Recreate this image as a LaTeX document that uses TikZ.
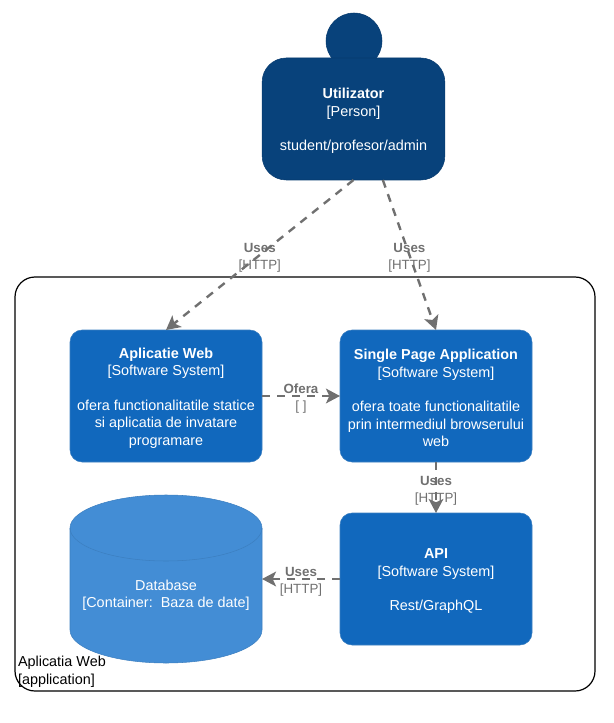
\documentclass[tikz,border=0pt]{standalone}
\usepackage{fontspec}
\setmainfont{Liberation Sans}
\usetikzlibrary{arrows.meta,positioning}

\definecolor{personfill}{HTML}{08427B}
\definecolor{personline}{HTML}{073B6F}
\definecolor{sysfill}{HTML}{1168BD}
\definecolor{sysline}{HTML}{3C7FC0}
\definecolor{dbfill}{HTML}{438DD5}
\definecolor{dbline}{HTML}{3C7FC0}
\definecolor{linkgray}{HTML}{707070}
\newcommand{\topgap}{\rule{0pt}{11pt}}
\newcommand{\linktext}[2]{\rule{0pt}{11.7pt}\textbf{#1}\\{[#2]}}

\begin{document}
\begin{tikzpicture}[
  x=0.75pt, y=-0.75pt,
  font=\fontsize{10.8pt}{13pt}\selectfont,
  outer sep=0pt, text=white,
  sys/.style={draw=sysline, fill=sysfill, rounded corners=9pt, align=center,
  minimum width=144pt, minimum height=99pt, inner sep=0pt},
  person/.style={draw=personline, fill=personfill, rounded corners=18pt, align=center,
  minimum width=137pt, minimum height=91.5pt, inner sep=0pt},
  head/.style={circle, draw=personline, fill=personfill, minimum size=42pt, inner sep=0pt},
  dbbox/.style={minimum width=144pt, minimum height=126pt, inner sep=0pt},
  dbbody/.style={draw=dbline, fill=dbfill, line width=0.4pt},
  arrow/.style={-{Stealth[length=10.5pt, width=11pt, inset=2.5pt]}, linkgray, line width=1.8pt,
  dash pattern=on 6pt off 5.25pt},
  lbl/.style={align=center, text=linkgray, font=\fontsize{10pt}{12.75pt}\selectfont},
  node distance=38.25pt and 58.5pt]
\useasboundingbox (0,0) rectangle (613,723);
\draw[black, line width=0.9pt, rounded corners=15pt] (15,277) rectangle (595,691);
\node[head] (head) at (354,41) {};
\node[person] (user) at (353.5,119) {\topgap\textbf{Utilizator}\\{[Person]}\\ \\student/profesor/admin};
\node[sys] (web) at (166,396) {\topgap\textbf{Aplicatie Web}\\{[Software System]}\\ \\ofera functionalitatile statice\\si aplicatia de invatare\\programare};
\node[sys,right=of web] (spa) {\topgap\textbf{Single Page Application}\\{[Software System]}\\ \\ofera toate functionalitatile\\prin intermediul browserului\\web};
\node[sys,below=of spa] (api) {\topgap\textbf{API}\\{[Software System]}\\ \\Rest/GraphQL};
\node[dbbox] (database) at (166,579) {};
\draw[dbbody] (70,528) arc[start angle=180, end angle=360, x radius=96, y radius=33]
  -- (262,630) arc[start angle=0, end angle=180, x radius=96, y radius=33] -- cycle;
\draw[dbline, line width=0.4pt] (70,528) arc[start angle=180, end angle=0, x radius=96, y radius=33];
\node[align=center] (dbtext) at (166,595) {Database\\{[Container:\ \ Baza de date]}};
\node[anchor=north west, align=left, text=black, inner sep=0pt, font=\fontsize{10.8pt}{13.4pt}\selectfont] (app) at (18,656) {Aplicatia Web\\{[application]}};
\draw[arrow] (user.south) -- node[lbl]{\linktext{Uses}{HTTP}} (web.north);
\draw[arrow] ([xshift=22pt]user.south) -- node[lbl]{\linktext{Uses}{HTTP}} (spa.north);
\draw[arrow] (web.east) -- node[lbl]{\linktext{Ofera}{ }} (spa.west);
\draw[arrow] (spa.south) -- node[lbl]{\linktext{Uses}{HTTP}} (api.north);
\draw[arrow] (api.west) -- node[lbl]{\linktext{Uses}{HTTP}} (database.east |- api.west);
\end{tikzpicture}
\end{document}
